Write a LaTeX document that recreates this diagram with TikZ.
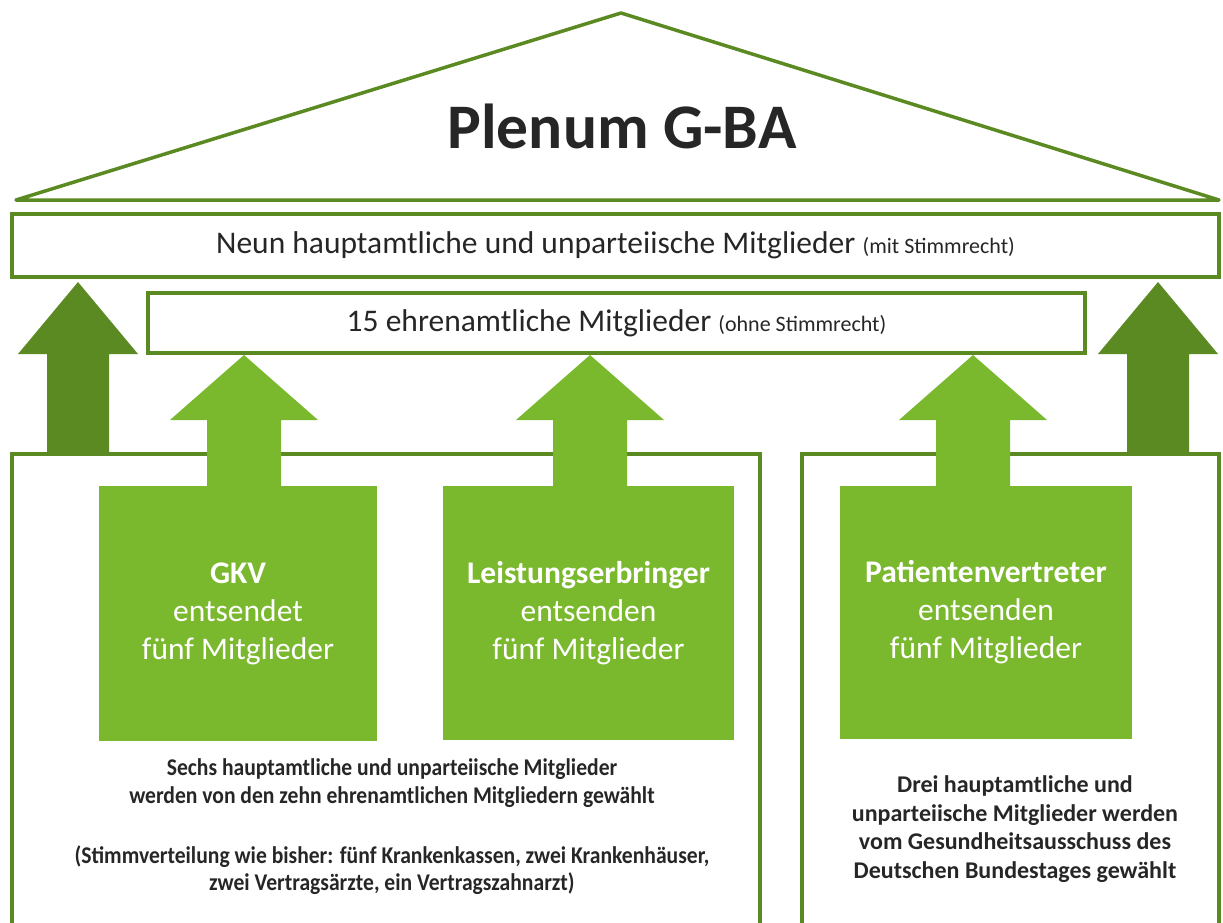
\documentclass[tikz,border=0pt]{standalone}
\usepackage{fontspec}
\setmainfont{Carlito}
\newfontfamily\narrowfont[FakeStretch=0.9]{Carlito}
\usepackage{xcolor}
\usetikzlibrary{positioning}

\definecolor{darkgreen}{RGB}{91,138,34}
\definecolor{lightgreen}{RGB}{122,184,46}
\definecolor{textgray}{RGB}{38,38,38}

\newcommand{\fs}[2]{\fontsize{#1}{#2}\selectfont}

\tikzset{
  framebox/.style={draw=darkgreen, line width=4pt, fill=white, inner sep=0pt,
    text=textgray, font=\fs{31.5}{36}},
  sendbox/.style={fill=lightgreen, text=white, inner sep=0pt, align=center,
    font=\fs{31.5}{38}},
  note/.style={text=textgray, align=center, inner sep=0pt},
}

\begin{document}
\begin{tikzpicture}[x=1pt,y=-1pt]
\useasboundingbox (0,0) rectangle (1223,923);

% roof
\draw[darkgreen, line width=3.5pt, line join=round] (16,200) -- (621,13) -- (1219,200) -- cycle;
\node[note, font=\bfseries\fs{63.5}{74}] (plenum) at (622,126) {Plenum G-BA};

% dark arrows to the top row
\foreach \cx in {78,1158}
  \fill[darkgreen] (\cx,282) -- ({\cx+60},354) -- ({\cx+31},354) -- ({\cx+31},454)
    -- ({\cx-31},454) -- ({\cx-31},354) -- ({\cx-60},354) -- cycle;

% rows
\node[framebox, minimum width=1207pt, minimum height=63pt] (neun) at (615.5,245.5)
  {Neun hauptamtliche und unparteiische Mitglieder {\fs{22}{24}(mit Stimmrecht)}};
\node[framebox, minimum width=937pt, minimum height=60pt] (ehren) at (616.5,323)
  {15 ehrenamtliche Mitglieder {\fs{22}{24}(ohne Stimmrecht)}};

% lower frames, open at the bottom
\draw[darkgreen, line width=4pt] (12,930) -- (12,454) -- (760,454) -- (760,930);
\draw[darkgreen, line width=4pt] (802,930) -- (802,454) -- (1219,454) -- (1219,930);

% light arrows
\foreach \cx in {244,590,973}
  \fill[lightgreen] (\cx,355) -- ({\cx+74},420) -- ({\cx+37},420) -- ({\cx+37},490)
    -- ({\cx-37},490) -- ({\cx-37},420) -- ({\cx-74},420) -- cycle;

% sending groups
\node[sendbox, minimum width=278pt, minimum height=255pt] (gkv) at (238,613.5)
  {\textbf{GKV}\\entsendet\\fünf Mitglieder};
\node[sendbox, minimum width=291pt, minimum height=254pt] (leist) at (588.5,613)
  {\textbf{Leistungserbringer}\\entsenden\\fünf Mitglieder};
\node[sendbox, minimum width=292pt, minimum height=253pt] (pat) at (986,612.5)
  {\textbf{Patientenvertreter}\\entsenden\\fünf Mitglieder};

% notes
\node[note, font=\narrowfont\bfseries\fs{24}{28}] (sechs) at (392,783)
  {Sechs hauptamtliche und unparteiische Mitglieder\\werden von den zehn ehrenamtlichen Mitgliedern gewählt};
\node[note, font=\narrowfont\bfseries\fs{24}{27}] (stimm) at (392,870.5)
  {(Stimmverteilung wie bisher: fünf Krankenkassen, zwei Krankenhäuser,\\zwei Vertragsärzte, ein Vertragszahnarzt)};
\node[note, font=\bfseries\fs{24}{28.7}] (drei) at (1015,829)
  {Drei hauptamtliche und\\unparteiische Mitglieder werden\\vom Gesundheitsausschuss des\\Deutschen Bundestages gewählt};
\end{tikzpicture}
\end{document}
